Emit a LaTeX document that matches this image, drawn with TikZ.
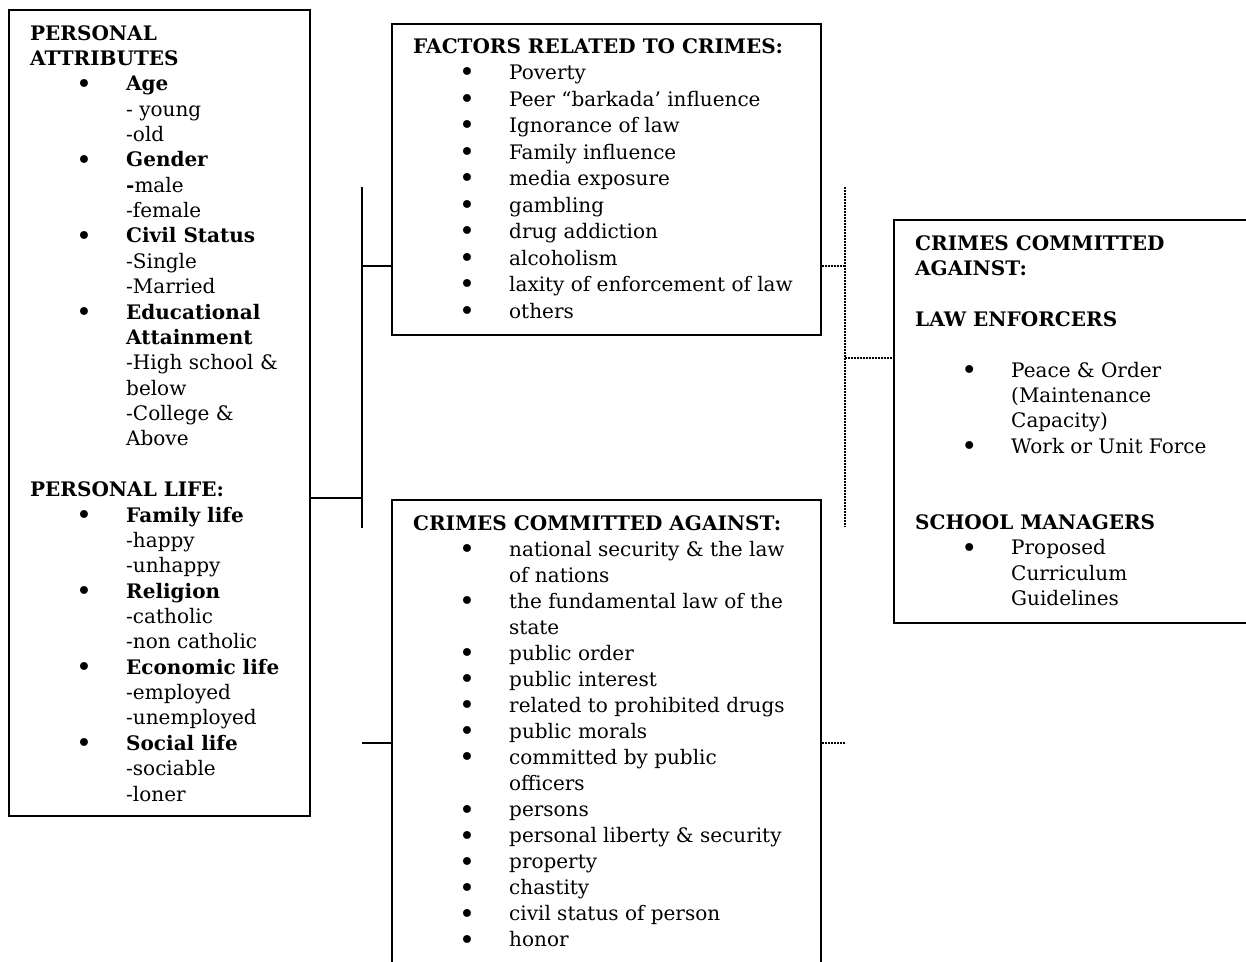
\documentclass[tikz,border=0pt]{standalone}
\usepackage{fontspec}
\setmainfont{DejaVu Serif}
\newcommand\bi[1]{\hspace*{54pt}\makebox[0pt]{\raisebox{-2.4pt}{\scalebox{1.35}{\textbullet}}}\hspace*{42pt}#1}
\newcommand\ct[1]{\hspace*{96pt}#1}
\newcommand\boxtext[2]{\begin{minipage}[t]{420pt}\fontsize{20}{#1}\selectfont\raggedright\parindent0pt #2\end{minipage}}
\tikzset{
  frame/.style={draw=black, line width=2.1pt, rectangle, inner sep=0pt, anchor=north west},
  txt/.style={anchor=base west, inner sep=0pt},
  conn/.style={draw=black, line width=2.1pt},
  dotconn/.style={draw=black, line width=1.5pt, dash pattern=on 1.5pt off 1.5pt}
}
\begin{document}
\begin{tikzpicture}[x=1pt,y=-1pt]
\useasboundingbox (0,0) rectangle (1246,961);
\clip (0,0) rectangle (1246,961);
\fill[white] (0,0) rectangle (1246,961);
% boxes
\node[frame, minimum width=301pt, minimum height=806pt] (pa) at (8,9) {};
\node[frame, minimum width=429pt, minimum height=311pt] (fac) at (391,23) {};
\node[frame, minimum width=429pt, minimum height=520pt] (cri) at (391,499) {};
\node[frame, minimum width=370pt, minimum height=403pt] (rt) at (893,219) {};
% texts
\node[txt] (patxt) at (30,40) {\boxtext{25.37pt}{%
\textbf{PERSONAL}\\
\textbf{ATTRIBUTES}\\
\bi{\textbf{Age}}\\
\ct{- young}\\
\ct{-old}\\
\bi{\textbf{Gender}}\\
\ct{\textbf{-}male}\\
\ct{-female}\\
\bi{\textbf{Civil Status}}\\
\ct{-Single}\\
\ct{-Married}\\
\bi{\textbf{Educational}}\\
\ct{\textbf{Attainment}}\\
\ct{-High school \&}\\
\ct{below}\\
\ct{-College \&}\\
\ct{Above}\\
\mbox{}\\
\textbf{PERSONAL LIFE:}\\
\bi{\textbf{Family life}}\\
\ct{-happy}\\
\ct{-unhappy}\\
\bi{\textbf{Religion}}\\
\ct{-catholic}\\
\ct{-non catholic}\\
\bi{\textbf{Economic life}}\\
\ct{-employed}\\
\ct{-unemployed}\\
\bi{\textbf{Social life}}\\
\ct{-sociable}\\
\ct{-loner}}};
\node[txt] (factxt) at (413,53) {\boxtext{26.5pt}{%
\textbf{FACTORS RELATED TO CRIMES:}\\
\bi{Poverty}\\
\bi{Peer “barkada’ influence}\\
\bi{Ignorance of law}\\
\bi{Family influence}\\
\bi{media exposure}\\
\bi{gambling}\\
\bi{drug addiction}\\
\bi{alcoholism}\\
\bi{laxity of enforcement of law}\\
\bi{others}}};
\node[txt] (critxt) at (413,530) {\boxtext{26.06pt}{%
\textbf{CRIMES COMMITTED AGAINST:}\\
\bi{national security \& the law}\\
\ct{of nations}\\
\bi{the fundamental law of the}\\
\ct{state}\\
\bi{public order}\\
\bi{public interest}\\
\bi{related to prohibited drugs}\\
\bi{public morals}\\
\bi{committed by public}\\
\ct{officers}\\
\bi{persons}\\
\bi{personal liberty \& security}\\
\bi{property}\\
\bi{chastity}\\
\bi{civil status of person}\\
\bi{honor}}};
\node[txt] (rttxt) at (915,250) {\boxtext{25.4pt}{%
\textbf{CRIMES COMMITTED}\\
\textbf{AGAINST:}\\
\mbox{}\\
\textbf{LAW ENFORCERS}\\
\mbox{}\\
\bi{Peace \& Order}\\
\ct{(Maintenance}\\
\ct{Capacity)}\\
\bi{Work or Unit Force}\\
\mbox{}\\
\mbox{}\\
\textbf{SCHOOL MANAGERS}\\
\bi{Proposed}\\
\ct{Curriculum}\\
\ct{Guidelines}}};
% solid connectors
\coordinate (jtop) at (362,187);
\coordinate (jbot) at (362,528);
\coordinate (jA) at (362,266);
\coordinate (jB) at (362,498);
\coordinate (jC) at (362,743);
\draw[conn] (jtop) -- (jbot);
\draw[conn] (jA) -- (fac.west |- jA);
\draw[conn] (pa.east |- jB) -- (jB);
\draw[conn] (jC) -- (cri.west |- jC);
% dotted connectors
\coordinate (dtop) at (845,187);
\coordinate (dbot) at (845,527);
\coordinate (dA) at (845,266);
\coordinate (dB) at (845,358);
\coordinate (dC) at (845,743);
\draw[dotconn] (dtop) -- (dbot);
\draw[dotconn] (fac.east |- dA) -- (dA);
\draw[dotconn] (dB) -- (rt.west |- dB);
\draw[dotconn] (cri.east |- dC) -- (dC);
\end{tikzpicture}
\end{document}
